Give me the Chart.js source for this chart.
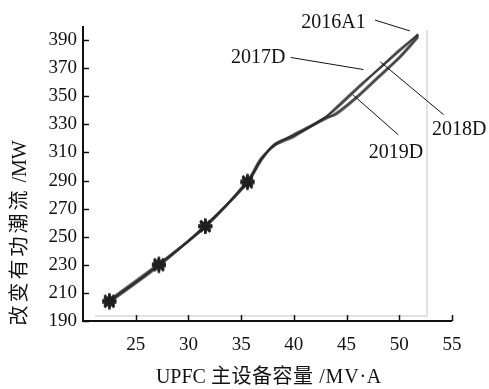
<!DOCTYPE html>
<html>
<head>
<meta charset="utf-8">
<script src="https://cdn.jsdelivr.net/npm/chart.js@4.4.0/dist/chart.umd.min.js"></script>
<style>
  html, body { margin: 0; padding: 0; background: #fff; }
  #wrap { width: 489px; height: 389px; }
</style>
</head>
<body>
<div id="wrap"><canvas id="chart" width="489" height="389"></canvas></div>
<script>
// x values (UPFC capacity, MV·A) and changed active power flow (MW)
const capacity = [22.5, 27.2, 31.6, 35.6, 36.9, 38.2, 40, 42.8, 44, 46, 48, 50, 51.8];
const flow2016A1 = [204, 230, 258, 289, 305, 316, 322, 334, 341, 355, 369, 382, 394];
const flow2017D  = [205, 231, 257, 290, 306, 315, 323, 334, 342, 356, 369, 383, 394];
const flow2018D  = [203, 229, 258, 288, 304, 316, 322, 333, 338, 350, 364, 378, 393];
const flow2019D  = [204, 230, 257, 289, 305, 315, 321, 334, 337, 349, 363, 377, 392];
const seriesNames = ['2016A1', '2017D', '2018D', '2019D'];
const xTicks = [25, 30, 35, 40, 45, 50, 55];
const yTicks = [190, 210, 230, 250, 270, 290, 310, 330, 350, 370, 390];

// callout labels: text anchor and leader line end, in data units
const callouts = [
  { text: '2016A1', align: 'left',  x: 40.7, y: 402.3, fx: 47.7, fy: 404.2, tx: 51.0, ty: 396.5 },
  { text: '2017D',  align: 'right', x: 39.2, y: 377.6, fx: 39.7, fy: 377.6, tx: 46.6, ty: 369.0 },
  { text: '2018D',  align: 'left',  x: 53.1, y: 325.8, fx: 54.2, fy: 336.9, tx: 48.2, ty: 374.5 },
  { text: '2019D',  align: 'left',  x: 47.1, y: 309.8, fx: 49.9, fy: 322.6, tx: 45.6, ty: 351.0 }
];

const serif = '"Liberation Serif", "Times New Roman", "Noto Sans CJK SC", serif';
const allFlows = [flow2016A1, flow2017D, flow2018D, flow2019D];

const datasets = allFlows.map(function(vals, i) {
  return {
    label: seriesNames[i],
    data: capacity.map(function(x, j) { return { x: x, y: vals[j] }; }),
    borderColor: 'rgba(40,40,40,0.7)',
    backgroundColor: 'rgba(40,40,40,0.75)',
    borderWidth: 2.2,
    tension: 0.3,
    pointStyle: 'star',
    pointRadius: function(ctx) { return ctx.dataIndex < 4 ? 7 : 0; },
    pointBorderWidth: 2.5,
    pointBorderColor: 'rgba(30,30,30,0.8)'
  };
});

// draw a string made of parts, each with its own letter spacing, centred on (0,0)
function drawParts(c, parts) {
  let total = 0;
  parts.forEach(function(p) {
    c.letterSpacing = p.s + 'px';
    p.w = c.measureText(p.t).width;
    total += p.w;
  });
  let x = -total / 2;
  c.textAlign = 'left';
  parts.forEach(function(p) {
    c.letterSpacing = p.s + 'px';
    c.fillText(p.t, x, 0);
    x += p.w;
  });
  c.letterSpacing = '0px';
}

const decorPlugin = {
  id: 'decor',
  beforeDatasetsDraw: function(chart) {
    const c = chart.ctx, a = chart.chartArea;
    // faint frame of the pasted image
    c.save();
    c.strokeStyle = '#e2e2e2';
    c.lineWidth = 2;
    c.beginPath();
    c.moveTo(a.left + 12, a.bottom - 5);
    c.lineTo(427, a.bottom - 5);
    c.lineTo(427, 30);
    c.stroke();
    c.restore();
  },
  afterDraw: function(chart) {
    const c = chart.ctx, a = chart.chartArea;
    const xs = chart.scales.x, ys = chart.scales.y;
    c.save();
    // axis lines
    c.strokeStyle = '#111';
    c.lineWidth = 2;
    c.beginPath();
    c.moveTo(a.left, 26);
    c.lineTo(a.left, a.bottom);
    c.lineTo(a.right, a.bottom);
    c.stroke();
    // inward tick marks
    c.lineWidth = 1.5;
    xTicks.forEach(function(v) {
      const px = Math.round(xs.getPixelForValue(v)) + 0.5;
      c.beginPath(); c.moveTo(px, a.bottom); c.lineTo(px, a.bottom - 6); c.stroke();
    });
    yTicks.forEach(function(v) {
      const py = Math.round(ys.getPixelForValue(v)) + 0.5;
      c.beginPath(); c.moveTo(a.left, py); c.lineTo(a.left + 6, py); c.stroke();
    });
    c.restore();
    // axis titles
    c.save();
    c.fillStyle = '#111';
    c.font = '20px ' + serif;
    c.textBaseline = 'middle';
    c.translate(269, 378);
    drawParts(c, [{ t: 'UPFC ', s: 0 }, { t: '主设备容量', s: 0.5 }, { t: ' /MV·A', s: 0.8 }]);
    c.restore();
    c.save();
    c.fillStyle = '#111';
    c.font = '20px ' + serif;
    c.textBaseline = 'middle';
    c.translate(21, 233);
    c.rotate(-Math.PI / 2);
    drawParts(c, [{ t: '改变有功潮流', s: 3 }, { t: ' /MW', s: 0 }]);
    c.restore();
    // callouts
    c.save();
    c.strokeStyle = '#111';
    c.lineWidth = 1;
    c.fillStyle = '#111';
    c.font = '20px ' + serif;
    c.textBaseline = 'middle';
    callouts.forEach(function(o) {
      c.beginPath();
      c.moveTo(xs.getPixelForValue(o.fx), ys.getPixelForValue(o.fy));
      c.lineTo(xs.getPixelForValue(o.tx), ys.getPixelForValue(o.ty));
      c.stroke();
      c.textAlign = o.align;
      c.fillText(o.text, xs.getPixelForValue(o.x), ys.getPixelForValue(o.y));
    });
    c.restore();
  }
};

new Chart(document.getElementById('chart').getContext('2d'), {
  type: 'line',
  data: { datasets: datasets },
  options: {
    responsive: false,
    animation: false,
    layout: { padding: { top: 26, right: 37, left: 0, bottom: 0 } },
    plugins: { legend: { display: false }, tooltip: { enabled: false } },
    scales: {
      x: {
        type: 'linear',
        min: 20,
        max: 55,
        afterBuildTicks: function(s) { s.ticks = xTicks.map(function(v) { return { value: v }; }); },
        afterFit: function(s) { s.height = 68; },
        grid: { display: false, drawTicks: false },
        border: { display: false },
        ticks: { color: '#111', padding: 13, font: { family: serif, size: 19 }, maxRotation: 0 }
      },
      y: {
        type: 'linear',
        min: 190,
        max: 400,
        afterBuildTicks: function(s) { s.ticks = yTicks.map(function(v) { return { value: v }; }); },
        afterFit: function(s) { s.width = 83; },
        grid: { display: false, drawTicks: false },
        border: { display: false },
        ticks: { color: '#111', padding: 6, font: { family: serif, size: 19 } }
      }
    }
  },
  plugins: [decorPlugin]
});
</script>
</body>
</html>
